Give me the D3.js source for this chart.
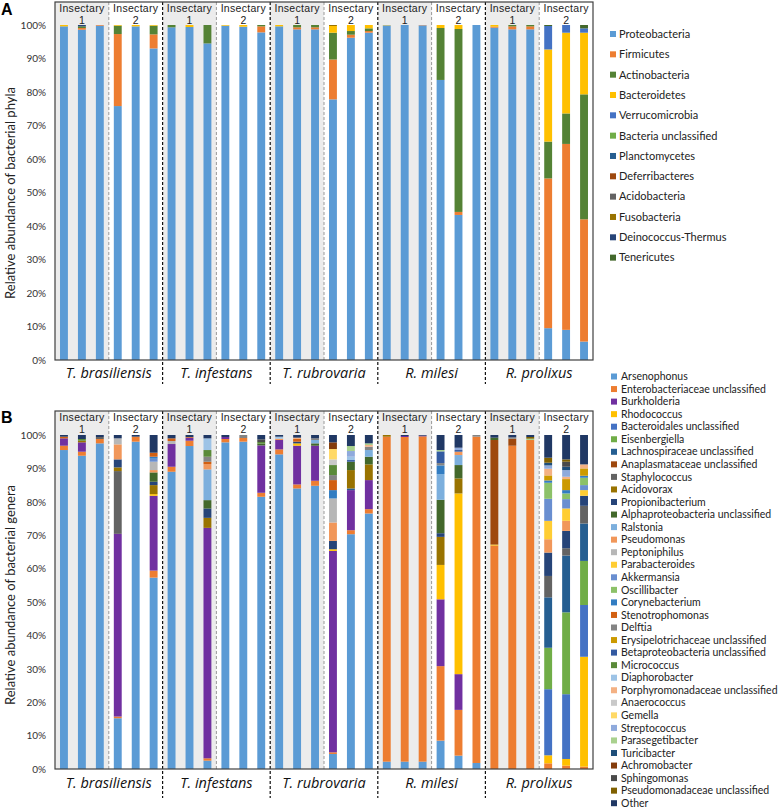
<!DOCTYPE html>
<html><head><meta charset="utf-8">
<script src="https://cdn.jsdelivr.net/npm/d3@7"></script>
<style>body{margin:0;background:#fff} svg{display:block}</style>
</head><body>
<svg id="chart" width="783" height="810"></svg>
<script>
// ---------- categories ----------
const species = ["T. brasiliensis","T. infestans","T. rubrovaria","R. milesi","R. prolixus"];
const insectaries = ["1","2"];
const replicates = ["a","b","c"];
const yTicks = [0,10,20,30,40,50,60,70,80,90,100];

// ---------- Panel A: phyla (30 bars: species x insectary x replicate) ----------
const phyla = ["Proteobacteria","Firmicutes","Actinobacteria","Bacteroidetes","Verrucomicrobia","Bacteria unclassified","Planctomycetes","Deferribacteres","Acidobacteria","Fusobacteria","Deinococcus-Thermus","Tenericutes"];
const phylumColors = ["#5B9BD5","#ED7D31","#548235","#FFC000","#4472C4","#70AD47","#255E91","#9E480E","#636363","#997300","#264478","#43682B"];
const proteobacteria = [99.6,98.6,99.8, 75.8,99.6,93.0, 99.3,99.4,94.5, 99.8,99.5,97.8, 99.6,98.7,98.7, 77.8,96.2,97.7, 99.9,100,99.9, 83.6,43.3,100, 99.2,98.7,98.7, 9.5,9.0,5.5];
const firmicutes     = [0,0.5,0.2, 21.5,0,4.2, 0,0,0, 0,0,1.8, 0,0.6,0.6, 11.9,0.9,0.5, 0,0,0.1, 0,0.9,0, 0.3,0.9,0.9, 44.7,55.5,36.5];
const actinobacteria = [0,0.5,0, 2.5,0,2.6, 0.7,0,5.5, 0,0,0.4, 0,0.7,0.7, 8.0,1.1,0.8, 0,0,0, 15.5,54.6,0, 0,0.4,0.4, 11.0,9.1,37.3];
const bacteroidetes  = [0.4,0,0, 0.2,0.4,0.2, 0,0.6,0, 0.2,0.5,0, 0.4,0,0, 2.0,1.8,1.0, 0.1,0,0, 0.9,1.2,0, 0.5,0,0, 27.5,24.1,18.4];
const verrucomicrobia= [0,0,0, 0,0,0, 0,0,0, 0,0,0, 0,0,0, 0,0,0, 0,0,0, 0,0,0, 0,0,0, 7.0,2.3,1.3];
const bacteriaUncl   = [0,0,0, 0,0,0, 0,0,0, 0,0,0, 0,0,0, 0,0,0, 0,0,0, 0,0,0, 0,0,0, 0,0,0];
const planctomycetes = [0,0,0, 0,0,0, 0,0,0, 0,0,0, 0,0,0, 0,0,0, 0,0,0, 0,0,0, 0,0,0, 0,0,0];
const deferribacteres= [0,0,0, 0,0,0, 0,0,0, 0,0,0, 0,0,0, 0,0,0, 0,0,0, 0,0,0, 0,0,0, 0,0,0];
const acidobacteria  = [0,0,0, 0,0,0, 0,0,0, 0,0,0, 0,0,0, 0,0,0, 0,0,0, 0,0,0, 0,0,0, 0,0,0];
const fusobacteria   = [0,0,0, 0,0,0, 0,0,0, 0,0,0, 0,0,0, 0.3,0,0, 0,0,0, 0,0,0, 0,0,0, 0,0,0];
const deinococcus    = [0,0.4,0, 0,0,0, 0,0,0, 0,0,0, 0,0,0, 0,0,0, 0,0,0, 0,0,0, 0,0,0, 0,0,0];
const tenericutes    = [0,0,0, 0,0,0, 0,0,0, 0,0,0, 0,0,0, 0,0,0, 0,0,0, 0,0,0, 0,0,0, 0.3,0,1.0];
const phylaValues = [proteobacteria,firmicutes,actinobacteria,bacteroidetes,verrucomicrobia,bacteriaUncl,planctomycetes,deferribacteres,acidobacteria,fusobacteria,deinococcus,tenericutes];

// ---------- Panel B: genera ----------
const genera = ["Arsenophonus","Enterobacteriaceae unclassified","Burkholderia","Rhodococcus","Bacteroidales unclassified","Eisenbergiella","Lachnospiraceae unclassified","Anaplasmataceae unclassified","Staphylococcus","Acidovorax","Propionibacterium","Alphaproteobacteria unclassified","Ralstonia","Pseudomonas","Peptoniphilus","Parabacteroides","Akkermansia","Oscillibacter","Corynebacterium","Stenotrophomonas","Delftia","Erysipelotrichaceae unclassified","Betaproteobacteria unclassified","Micrococcus","Diaphorobacter","Porphyromonadaceae unclassified","Anaerococcus","Gemella","Streptococcus","Parasegetibacter","Turicibacter","Achromobacter","Sphingomonas","Pseudomonadaceae unclassified","Other"];
const genusColors = ["#5B9BD5","#ED7D31","#7030A0","#FFC000","#4472C4","#70AD47","#255E91","#9E480E","#636363","#997300","#264478","#43682B","#7CAFDD","#F1975A","#B7B7B7","#FFCD33","#698ED0","#8CC168","#327DC2","#D26012","#848484","#CC9A00","#335AA1","#5A8A39","#9DC3E6","#F4B183","#C9C9C9","#FFD966","#8FAADC","#A9D18E","#1F4E79","#843C0C","#4A4A4A","#7F6000","#203864"];
const arsenophonus = [95.5,93.8,97.5, 15.2,98.0,57.3, 89.0,96.7,2.5, 97.8,98.0,81.5, 94.2,84.0,84.8, 4.5,70.3,76.5, 2.2,2.2,2.2, 8.5,4.0,1.8, 0,0,0, 0,0,0];
const enterobact   = [1.3,1.2,1.3, 0.5,1.5,2.1, 1.5,1.6,0.7, 1.0,1.1,1.2, 1.5,1.2,1.5, 0.5,1.2,1.3, 97.3,97.2,97.4, 22.3,13.7,97.7, 66.9,96.8,98.5, 1.7,1.0,0.7];
const burkholderia = [2.2,2.8,0, 54.7,0,22.4, 6.8,0.9,69.0, 0.6,0,14.2, 2.8,11.6,10.5, 60.3,12.0,8.7, 0,0.3,0.2, 20.0,10.7,0, 0,0,0, 0,0,0];
const rhodococcus  = [0,0,0, 0,0,0.5, 0,0,0, 0,0,0, 0,0.7,0, 0.5,0,0, 0,0,0, 10.3,54.1,0, 0.3,0,0, 2.4,2.0,32.9];
const bacteroidales= [0,0,0, 0,0,0, 0,0,0, 0,0,0, 0,0,0, 0,0,0, 0,0,0, 0,0,0, 0,0,0, 19.8,19.4,15.5];
const eisenbergiella=[0,0,0, 0,0,0, 0,0,0, 0,0,0, 0,0,0, 0,0,0, 0,0,0, 0,0,0, 0,0,0, 12.4,24.5,13.2];
const lachnospir   = [0,0,0, 0,0,0, 0,0,0, 0,0,0, 0,0,0, 0,0.5,0, 0,0,0, 0,0,0, 0,0,0, 15.1,17.0,11.2];
const anaplasmat   = [0,0,0, 0,0,0, 0,0,0, 0,0,0, 0,0,0, 0,0,0, 0,0,0, 0,0,0, 31.3,2.1,0, 0,0,0];
const staphylococcus=[0,0,0.6, 18.8,0,0, 0,0,0, 0,0,0, 0,0,0, 0,0,0, 0,0,0, 0,0,0, 0,0,0, 6.4,2.2,5.3];
const acidovorax   = [0,0.5,0, 1.1,0,2.7, 0,0,3.0, 0,0,0, 0,0,0, 0,5.5,4.7, 0.5,0,0, 8.4,4.5,0, 0,0,0, 0,0,0];
const propionibact = [0,0,0, 2.4,0,1.0, 0,0,2.8, 0,0,0, 0,0.5,0, 2.5,0,0, 0,0,0, 1.1,0,0, 0,0,0, 7.0,5.2,3.0];
const alphaproteo  = [0,0,0, 0,0,2.8, 0,0,2.5, 0,0,0.5, 0,0,0.7, 0,2.5,2.3, 0,0,0, 10.0,4.0,0, 0.7,0,0, 0,0,0];
const ralstonia    = [0,0,0, 0,0,0, 0,0,9.2, 0,0,0, 0,0,1.0, 0,0,2.0, 0,0,0, 7.7,3.0,0, 0,0,0, 0,0,0];
const pseudomonas  = [0,0,0, 4.5,0,0.7, 0,0,1.6, 0,0,0, 0.4,0,0, 5.5,0,0, 0,0,0, 0,1.0,0, 0,0,0, 4.0,3.0,0];
const peptoniphilus= [0,0,0, 1.8,0,2.5, 0.9,0,0, 0,0,0, 0,0,0, 7.2,0,0, 0,0,0, 0,0,0, 0,0,0, 0,0,0];
const parabacteroides=[0,0,0, 0,0,0, 0,0,0, 0,0,0, 0,0,0, 0,0,0, 0,0,0, 0,0,0, 0,0,0, 5.5,3.7,1.7];
const akkermansia  = [0,0,0, 0,0,0.9, 0,0,0, 0,0,0, 0,0,0, 0,0,0, 0,0,0, 0,0,0, 0,0,0, 6.6,2.8,1.5];
const oscillibacter= [0,0,0, 0,0,0, 0,0,0, 0,0,0, 0,0,0, 0,0,0, 0,0,0, 0,0,0, 0,0,0, 4.8,1.7,2.2];
const corynebact   = [0,0,0, 0,0,0.6, 0,0,0, 0,0,0, 0,0,0, 2.5,0,0, 0,0,0, 2.6,0,0, 0,0,0, 0.7,1.0,0.6];
const stenotroph   = [0.5,0,0, 0,0,1.2, 0.8,0.2,0.7, 0,0,0, 0,0.8,0, 3.0,0,0, 0,0,0, 0,0,0, 0,0,0, 0,0,0];
const delftia      = [0,0,0, 0,0,0, 0,0,1.5, 0,0.9,0, 0,0,0.5, 1.5,0,1.0, 0,0,0, 0.7,0,0.5, 0,0.4,0, 0,0,0];
const erysipelo    = [0,0,0, 0,0,0, 0,0,0, 0,0,0, 0,0,0, 0,0,0, 0,0,0, 0,0,0, 0,0,0, 1.5,3.3,2.2];
const betaproteo   = [0,0,0, 0,0,0, 0,0,0, 0,0,0, 0,0,0, 0,0.5,0, 0,0,0, 3.5,0.5,0, 0,0,0, 0,0,0];
const micrococcus  = [0,0.5,0, 0,0,0, 0,0,2.0, 0,0,0.5, 0,0,0, 3.0,0,0, 0,0,0, 0,0,0, 0,0,0, 0,0,0];
const diaphorobact = [0,0,0, 0,0,0, 0,0,3.5, 0,0,0, 0.6,0,0, 0,1.0,0, 0,0,0, 0,0,0, 0,0,0, 0,0,0];
const porphyromon  = [0,0,0, 0,0,0, 0,0,0, 0,0,0, 0,0.4,0, 0,0,0.5, 0,0,0, 0,0,0, 0,0,0, 2.0,0.7,1.2];
const anaerococcus = [0,0,0, 0,0,0, 0,0,0, 0,0,0, 0,0,0, 1.7,0,0, 0,0,0, 0,0,0, 0,0,0, 0,0,0];
const gemella      = [0,0,0, 0,0,0, 0,0,0, 0,0,0, 0,0,0, 3.1,0,0, 0,0,0, 0,0,0, 0,0,0, 0,0,0];
const streptococcus= [0,0,0, 0,0,0, 0,0,0, 0,0,0, 0,0,0, 0,1.7,0, 0,0,0, 0,0.7,0, 0,0,0, 1.0,2.0,0];
const parasegetib  = [0,0,0, 0,0,0, 0,0,0, 0,0,0, 0,0,0, 0,1.5,0.5, 0,0,0, 0.4,0,0, 0,0,0.4, 0,0,0];
const turicibacter = [0,0,0, 0,0,0, 0,0,0, 0,0,0, 0,0,0, 0,0,0, 0,0,0, 0,0,0, 0,0,0, 0.8,1.0,0];
const achromobacter= [0,0,0, 0,0,0, 0,0,0, 0,0,0, 0,0,0, 2.0,0,0, 0,0,0, 0,0,0, 0,0,0, 0,0,0];
const sphingomonas = [0,0,0, 0,0,0, 0,0,0, 0,0,0.8, 0,0,0, 0,0,0, 0,0,0, 0,0,0, 0,0,0, 0,1.5,0];
const pseudomonadac= [0,0,0, 0,0,0, 0,0,0, 0,0,0, 0,0,0, 0,0,0, 0,0,0, 0,0,0, 0,0,0.5, 1.5,0.7,0];
const otherGenera  = [0.5,1.2,0.6, 1.0,0.5,5.3, 1.0,0.6,1.0, 0.6,0,1.3, 0.5,0.8,1.0, 2.2,3.3,2.5, 0,0.3,0.2, 4.5,3.8,0, 0.8,0.7,0.6, 6.8,7.3,8.8];
const generaValues = [arsenophonus,enterobact,burkholderia,rhodococcus,bacteroidales,eisenbergiella,lachnospir,anaplasmat,staphylococcus,acidovorax,propionibact,alphaproteo,ralstonia,pseudomonas,peptoniphilus,parabacteroides,akkermansia,oscillibacter,corynebact,stenotroph,delftia,erysipelo,betaproteo,micrococcus,diaphorobact,porphyromon,anaerococcus,gemella,streptococcus,parasegetib,turicibacter,achromobacter,sphingomonas,pseudomonadac,otherGenera];

// ---------- drawing ----------
const svg = d3.select("#chart");
const X0 = 55, X1 = 593;
const groups = [];
species.forEach(s => insectaries.forEach(i => groups.push(s + "|" + i)));

function drawPanel(cfg) {
  const g = svg.append("g");
  const xs = d3.scaleBand().domain(species).range([X0, X1]);
  const xg = d3.scaleBand().domain(groups).range([X0, X1]);
  const xb = d3.scaleBand().domain(replicates).range([0, xg.bandwidth()]).paddingInner(0.56).paddingOuter(0.28);
  const y = d3.scaleLinear().domain([0, 100]).range([cfg.yBottom, cfg.y100]);

  // insectary-1 shading
  g.selectAll("rect.bg").data(groups.filter(d => d.endsWith("|1"))).join("rect")
    .attr("x", d => xg(d)).attr("y", cfg.boxTop)
    .attr("width", xg.bandwidth()).attr("height", cfg.yBottom - cfg.boxTop)
    .attr("fill", "#ececec");

  // stacked bars
  const rows = [];
  groups.forEach((gid, gi) => replicates.forEach((r, ri) => {
    const o = { group: gid, rep: r };
    cfg.names.forEach((n, k) => o[n] = cfg.values[k][gi * 3 + ri]);
    rows.push(o);
  }));
  const stacked = d3.stack().keys(cfg.names)(rows);
  g.selectAll("g.series").data(stacked).join("g")
    .attr("fill", (d, i) => cfg.colors[i])
    .selectAll("rect").data(d => d.filter(p => p[1] - p[0] > 0)).join("rect")
    .attr("x", p => xg(p.data.group) + xb(p.data.rep))
    .attr("width", xb.bandwidth())
    .attr("y", p => y(p[1]))
    .attr("height", p => y(p[0]) - y(p[1]));

  // insectary separators (grey dashed)
  g.selectAll("line.ins").data(groups.filter(d => d.endsWith("|2"))).join("line")
    .attr("x1", d => xg(d)).attr("x2", d => xg(d))
    .attr("y1", cfg.boxTop).attr("y2", cfg.yBottom)
    .attr("stroke", "#9a9a9a").attr("stroke-width", 1).attr("stroke-dasharray", "3,2");

  // species separators (black dashed)
  g.selectAll("line.sp").data(species.slice(1)).join("line")
    .attr("x1", d => xs(d)).attr("x2", d => xs(d))
    .attr("y1", cfg.boxTop).attr("y2", cfg.dashBottom)
    .attr("stroke", "#111").attr("stroke-width", 1.2).attr("stroke-dasharray", "3,2");

  // frame
  g.append("rect").attr("x", X0).attr("y", cfg.boxTop)
    .attr("width", X1 - X0).attr("height", cfg.yBottom - cfg.boxTop)
    .attr("fill", "none").attr("stroke", "#404040").attr("stroke-width", 1.2);

  // headers: "Insectary" / number
  const hd = g.selectAll("g.hd").data(groups).join("g")
    .attr("transform", d => `translate(${xg(d) + xg.bandwidth() / 2},${cfg.boxTop})`)
    .attr("font-family", "'Liberation Sans', Arial, sans-serif").attr("font-size", 10.5)
    .attr("fill", "#222").attr("text-anchor", "middle");
  hd.append("text").attr("y", 9.9).attr("letter-spacing", 0.3).text("Insectary");
  hd.append("text").attr("y", 21.7).text(d => d.split("|")[1]);

  // y axis
  const ax = g.append("g").attr("transform", `translate(${X0},0)`)
    .call(d3.axisLeft(y).tickValues(yTicks).tickFormat(d => d + "%").tickSize(0).tickPadding(9));
  ax.select(".domain").remove();
  ax.selectAll("text").attr("font-family", "Lato, 'Open Sans', sans-serif").attr("font-size", 10).attr("fill", "#333");

  // y title
  g.append("text")
    .attr("transform", `translate(15,${cfg.titleY}) rotate(-90)`)
    .attr("text-anchor", "middle").attr("font-family", "Lato, sans-serif").attr("font-size", 13).attr("fill", "#222")
    .text(cfg.yTitle);

  // species labels
  g.selectAll("text.sp").data(species).join("text")
    .attr("x", d => xs(d) + xs.bandwidth() / 2).attr("y", cfg.labelY)
    .attr("text-anchor", "middle").attr("font-family", "'Open Sans', sans-serif")
    .attr("font-style", "italic").attr("font-size", 14.5).attr("fill", "#111")
    .text(d => d);

  // panel letter
  g.append("text").attr("x", 1).attr("y", cfg.letterY)
    .attr("font-family", "'Liberation Sans', Arial, sans-serif").attr("font-weight", "bold").attr("font-size", 16)
    .text(cfg.letter);

  // legend
  const lg = g.selectAll("g.lg").data(cfg.names).join("g")
    .attr("transform", (d, i) => `translate(${cfg.legX},${cfg.legY0 + i * cfg.legStep})`);
  lg.append("rect").attr("x", 0).attr("y", -3).attr("width", 6).attr("height", 6)
    .attr("fill", (d, i) => cfg.colors[i]);
  lg.append("text").attr("x", cfg.legTextDx).attr("y", 0).attr("dy", "0.35em")
    .attr("font-family", "Lato, sans-serif").attr("font-size", cfg.legFont).attr("fill", "#222")
    .text(d => d);
}

drawPanel({
  names: phyla, colors: phylumColors, values: phylaValues,
  boxTop: 2, y100: 25, yBottom: 360, dashBottom: 384, labelY: 378, titleY: 193,
  yTitle: "Relative abundance of bacterial phyla", letter: "A", letterY: 15,
  legX: 610, legY0: 34, legStep: 20.33, legTextDx: 9, legFont: 11
});
drawPanel({
  names: genera, colors: genusColors, values: generaValues,
  boxTop: 411, y100: 435, yBottom: 769, dashBottom: 798, labelY: 788, titleY: 595,
  yTitle: "Relative abundance of bacterial genera", letter: "B", letterY: 423,
  legX: 611, legY0: 376.5, legStep: 12.55, legTextDx: 10, legFont: 10.5
});
</script>
</body></html>
